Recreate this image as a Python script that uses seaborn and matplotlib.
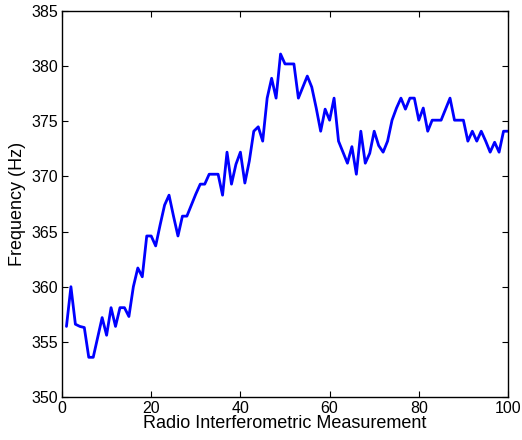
import numpy as np
import pandas as pd
import matplotlib
matplotlib.use("Agg")
import matplotlib.pyplot as plt
import seaborn as sns

# Measurement index and the corresponding frequency readings
measurement = list(range(1, 101))
frequency_hz = [
    356.4, 360.0, 356.6, 356.4, 356.3, 353.6, 353.6, 355.4, 357.2, 355.6,
    358.1, 356.4, 358.1, 358.1, 357.3, 360.0, 361.7, 360.9, 364.6, 364.6,
    363.7, 365.6, 367.4, 368.3, 366.4, 364.6, 366.4, 366.4, 367.4, 368.4,
    369.3, 369.3, 370.2, 370.2, 370.2, 368.3, 372.2, 369.3, 371.1, 372.2,
    369.4, 371.4, 374.1, 374.5, 373.2, 377.1, 378.9, 377.1, 381.1, 380.2,
    380.2, 380.2, 377.1, 378.1, 379.1, 378.1, 376.2, 374.1, 376.1, 375.1,
    377.1, 373.2, 372.2, 371.2, 372.7, 370.2, 374.1, 371.2, 372.1, 374.1,
    372.8, 372.2, 373.2, 375.1, 376.2, 377.1, 376.1, 377.1, 377.1, 375.1,
    376.2, 374.1, 375.1, 375.1, 375.1, 376.1, 377.1, 375.1, 375.1, 375.1,
    373.2, 374.1, 373.2, 374.1, 373.2, 372.2, 373.1, 372.2, 374.1, 374.1,
]
x_ticks = [0, 20, 40, 60, 80, 100]
y_ticks = [350, 355, 360, 365, 370, 375, 380, 385]

df = pd.DataFrame({"measurement": measurement, "frequency": frequency_hz})

sns.set_theme(style="white")
plt.rcParams["font.family"] = ["Liberation Sans", "DejaVu Sans"]

fig = plt.figure(figsize=(5.22, 4.40), dpi=100)
ax = fig.add_axes([62 / 522, 1 - 397 / 440, (508 - 62) / 522, (397 - 11) / 440])

sns.lineplot(data=df, x="measurement", y="frequency", ax=ax,
             color=(0, 0, 1), linewidth=2.0)

ax.set_xlim(0, 100)
ax.set_ylim(350, 385)
ax.set_xticks(x_ticks)
ax.set_yticks(y_ticks)
ax.set_xlabel("Radio Interferometric Measurement", fontsize=13, labelpad=-1,
              color="black")
ax.set_ylabel("Frequency (Hz)", fontsize=13, labelpad=4, color="black")

for side in ["left", "right", "top", "bottom"]:
    ax.spines[side].set_visible(True)
    ax.spines[side].set_color("black")
    ax.spines[side].set_linewidth(1.0)

ax.tick_params(axis="both", which="both", direction="in", length=4, width=0.8,
               color="black", labelsize=11.5, labelcolor="black",
               top=True, right=True, bottom=True, left=True, pad=3)

fig.savefig("out.png", dpi=100, facecolor="white")
